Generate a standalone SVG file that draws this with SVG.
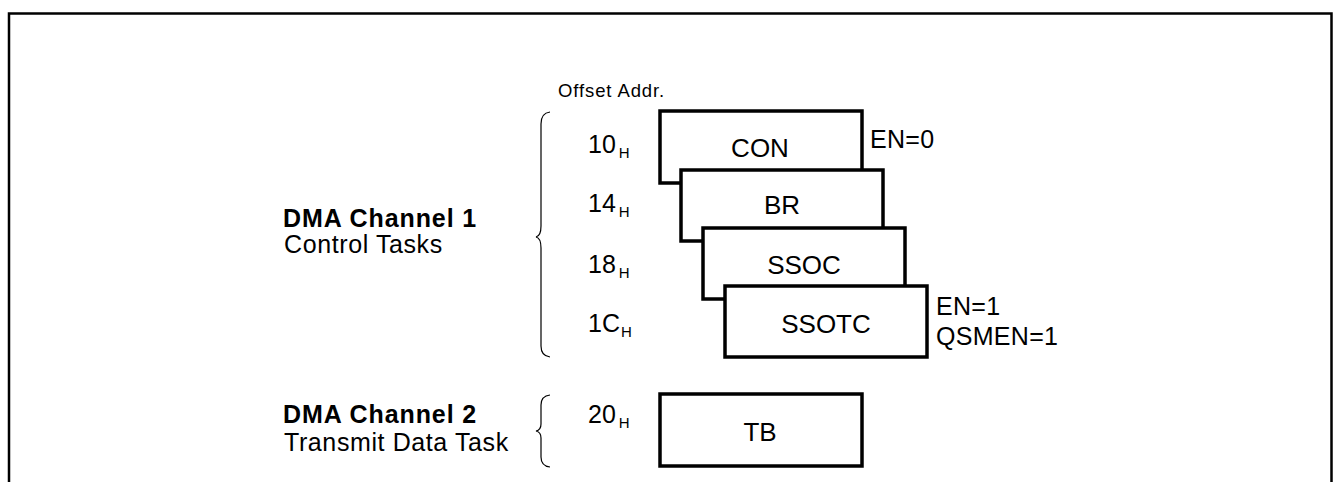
<svg xmlns="http://www.w3.org/2000/svg" width="1333" height="482" viewBox="0 0 1333 482">
<style>
text{font-family:"Liberation Sans",Arial,sans-serif;fill:#000}
.lbl{font-size:25px;letter-spacing:0.6px}
.bold{font-weight:bold;letter-spacing:0.9px}
.reg{font-size:26px;text-anchor:middle}
.off{font-size:25px}
.sub{font-size:15px}
.box{fill:#fff;stroke:#000;stroke-width:3.5}
.brace{fill:none;stroke:#000;stroke-width:1.2}
.note{font-size:25px;letter-spacing:0.3px}
</style>
<rect width="1333" height="482" fill="#fff"/>
<path d="M9 482 V13.5 H1331.5 V482" fill="none" stroke="#000" stroke-width="2.5"/>
<text x="558" y="97" style="font-size:18.5px;letter-spacing:0.9px">Offset Addr.</text>
<g id="braces">
<path class="brace" d="M550 112 Q541 113 541 124 V226 Q541 236 536 237 Q541 238 541 248 V346 Q541 356 550 357"/>
<path class="brace" d="M550 395 Q541 396 541 405 V424 Q541 430 536 431 Q541 432 541 438 V457 Q541 466 550 467"/>
</g>
<g id="ch1-label">
<text x="283" y="227" class="lbl bold">DMA Channel 1</text>
<text x="284" y="253" class="lbl">Control Tasks</text>
</g>
<g id="ch2-label">
<text x="283" y="423" class="lbl bold">DMA Channel 2</text>
<text x="284" y="451" class="lbl">Transmit Data Task</text>
</g>
<g id="offsets">
<text x="588" y="153" class="off">10<tspan class="sub" dx="3" dy="5">H</tspan></text>
<text x="588" y="212" class="off">14<tspan class="sub" dx="3" dy="5">H</tspan></text>
<text x="588" y="273" class="off">18<tspan class="sub" dx="3" dy="5">H</tspan></text>
<text x="588" y="332" class="off">1C<tspan class="sub" dx="1" dy="5">H</tspan></text>
<text x="588" y="423" class="off">20<tspan class="sub" dx="3" dy="5">H</tspan></text>
</g>
<g id="CON">
<rect class="box" x="660" y="111" width="202" height="72"/>
<text x="760" y="157" class="reg">CON</text>
</g>
<g id="BR">
<rect class="box" x="681" y="170" width="202" height="71"/>
<text x="782" y="214" class="reg">BR</text>
</g>
<g id="SSOC">
<rect class="box" x="703" y="228" width="202" height="71"/>
<text x="804" y="274" class="reg">SSOC</text>
</g>
<g id="SSOTC">
<rect class="box" x="725" y="286" width="202" height="71"/>
<text x="826" y="333" class="reg">SSOTC</text>
</g>
<g id="TB">
<rect class="box" x="660" y="394" width="202" height="72"/>
<text x="760" y="441" class="reg">TB</text>
</g>
<g id="notes">
<text x="870" y="148" class="note">EN=0</text>
<text x="936" y="315" class="note">EN=1</text>
<text x="936" y="345" class="note">QSMEN=1</text>
</g>
</svg>
